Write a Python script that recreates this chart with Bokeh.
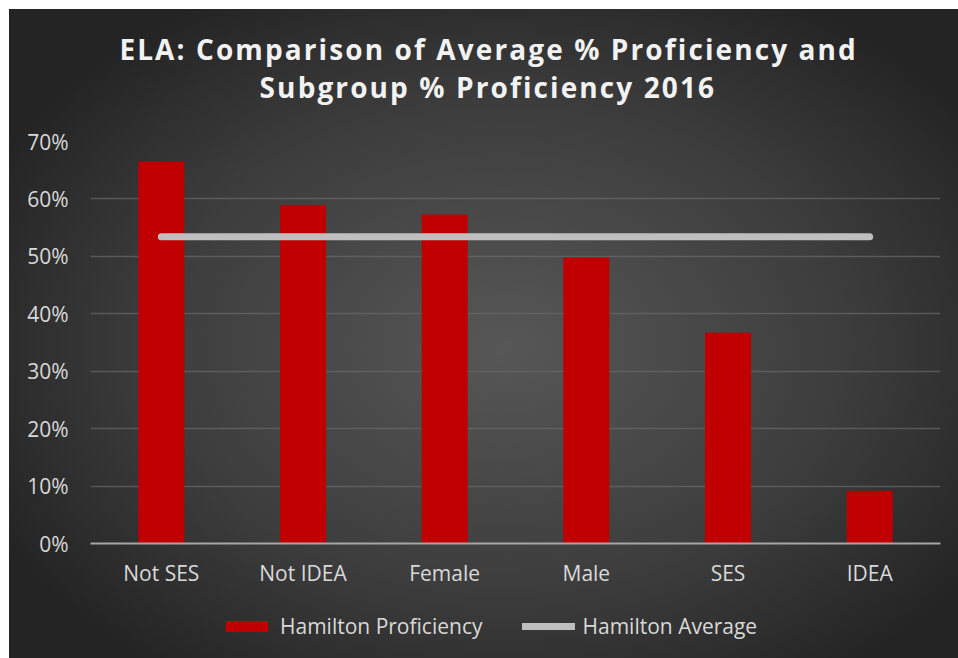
from bokeh.plotting import figure
from bokeh.layouts import column
from bokeh.models import (FactorRange, Range1d, FixedTicker, NumeralTickFormatter,
                          Legend, LegendItem, ColumnDataSource)
from bokeh.core.properties import value
from bokeh.embed import file_html
from bokeh.resources import INLINE

# ---- data ----
categories = ["Not SES", "Not IDEA", "Female", "Male", "SES", "IDEA"]
proficiency = [0.665, 0.589, 0.573, 0.498, 0.367, 0.092]
average_value = 0.534
y_ticks = [0.0, 0.1, 0.2, 0.3, 0.4, 0.5, 0.6, 0.7]
title_lines = ["ELA:  Comparison of Average % Proficiency and",
               "Subgroup % Proficiency 2016"]
series_names = ["Hamilton Proficiency", "Hamilton Average"]

FONT = "Open Sans"
TXT = "#d9d9d9"
RED = "#c00000"
GREY = "#bfbfbf"
W = 949


def strip(height):
    f = figure(width=W, height=height, output_backend="svg", toolbar_location=None,
               x_range=Range1d(0, W), y_range=Range1d(0, height),
               x_axis_location=None, y_axis_location=None,
               min_border=0, min_border_left=0, min_border_right=0,
               min_border_top=0, min_border_bottom=0)
    f.title = None
    f.grid.visible = False
    f.background_fill_alpha = 0
    f.border_fill_alpha = 0
    f.outline_line_color = None
    return f


# ---- title strip ----
TH = 117
pt = strip(TH)
pt.styles = {"letter-spacing": "2.1px"}
pt.text(x=[397, 412], y=[TH - 39, TH - 77], text=title_lines,
        text_font=value(FONT), text_font_size="28px", text_font_style="bold",
        text_color="#f2f2f2", text_align="center", text_baseline="middle")

# ---- main chart ----
p = figure(width=W, height=472, output_backend="svg", toolbar_location=None,
           x_range=FactorRange(*categories, range_padding=0),
           y_range=Range1d(0, 0.7),
           min_border_left=81, min_border_right=18, min_border_top=15,
           min_border_bottom=55)
p.title = None
p.background_fill_alpha = 0
p.border_fill_alpha = 0
p.outline_line_color = None

src = ColumnDataSource(dict(cat=categories, val=proficiency))
p.vbar(x="cat", top="val", width=0.325, source=src, fill_color=RED, line_color=None)

avg_src = ColumnDataSource(dict(cat=[categories[0], categories[-1]],
                                val=[average_value, average_value]))
p.line(x="cat", y="val", source=avg_src, line_color=GREY, line_width=7, line_cap="round")

p.yaxis.ticker = FixedTicker(ticks=y_ticks)
p.yaxis.formatter = NumeralTickFormatter(format="0%")
p.yaxis.axis_line_color = None
p.yaxis.major_tick_line_color = None
p.yaxis.minor_tick_line_color = None
p.yaxis.major_label_text_font = FONT
p.yaxis.major_label_text_font_size = "21px"
p.yaxis.major_label_text_color = TXT
p.yaxis.major_label_standoff = 16

p.xaxis.axis_line_color = "#a6a6a6"
p.xaxis.axis_line_width = 2
p.xaxis.major_tick_line_color = None
p.xaxis.minor_tick_line_color = None
p.xaxis.major_label_text_font = FONT
p.xaxis.major_label_text_font_size = "21px"
p.xaxis.major_label_text_color = TXT
p.xaxis.major_label_standoff = 9

p.xgrid.grid_line_color = None
p.ygrid.grid_line_color = "#6a6a6a"
p.ygrid.grid_line_alpha = 0.7
p.ygrid.grid_line_width = 1.5

# ---- legend strip (proxy glyphs lie far outside the strip's ranges) ----
pl = strip(60)
lb = pl.vbar(x=[-1000], bottom=[-300], top=[-200], width=10, fill_color=RED,
             line_color=None)
ll = pl.line(x=[-1000, -980], y=[-200, -200], line_color=GREY, line_width=7,
             line_cap="round")
legend = Legend(items=[LegendItem(label=series_names[0], renderers=[lb]),
                       LegendItem(label=series_names[1], renderers=[ll])],
                orientation="horizontal", location=(130, 18),
                label_text_font=FONT, label_text_font_size="21px", label_text_color=TXT,
                glyph_width=53, glyph_height=14, label_standoff=7, spacing=40,
                background_fill_alpha=0, border_line_color=None, padding=4, margin=0)
pl.add_layout(legend, "center")

layout = column(pt, p, pl, spacing=0)
layout.margin = (9, 0, 0, 9)
layout.styles = {"background": "radial-gradient(ellipse 60% 62% at 52% 52%, #575757 0%, #3d3d3d 60%, #242424 100%)"}

open("out.html", "w").write(file_html(layout, INLINE))
